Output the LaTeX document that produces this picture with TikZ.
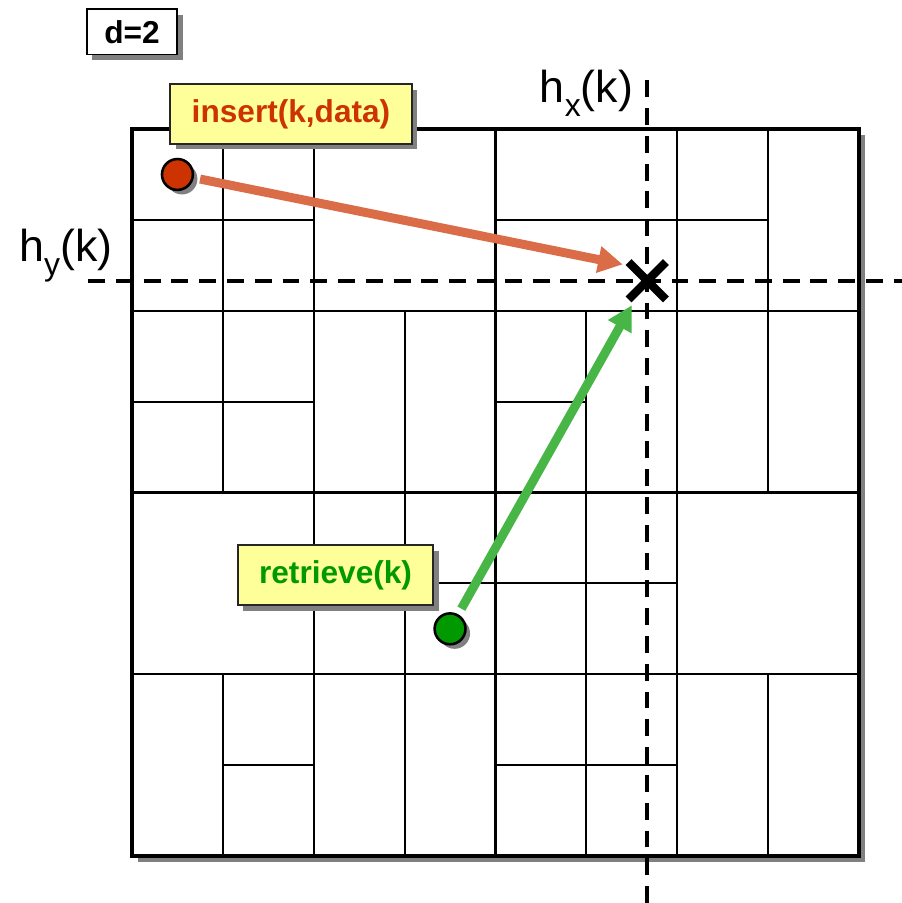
\documentclass[tikz,border=0pt]{standalone}
\usepackage{fontspec}
\setmainfont{Liberation Sans}
\usetikzlibrary{arrows.meta,shadows,shapes.misc}
\definecolor{insertred}{RGB}{204,51,0}
\definecolor{retrievegreen}{RGB}{0,153,0}
\definecolor{notepaper}{RGB}{255,255,153}
\definecolor{shadowgray}{RGB}{128,128,128}

\begin{document}
\begin{tikzpicture}[x=1cm,y=1cm,
  cell/.style={line width=.65pt},
  notebox/.style={draw=black!85,line width=.6pt,fill=notepaper,inner sep=0pt,
    font=\fontsize{9.9}{12}\selectfont\bfseries,minimum height=.66cm,
    general shadow={fill=shadowgray,shadow xshift=.06cm,shadow yshift=-.06cm}},
  keydot/.style={circle,draw=black,line width=.8pt,minimum size=.34cm,inner sep=0pt,
    general shadow={fill=shadowgray,shadow xshift=.05cm,shadow yshift=-.05cm}},
  hashline/.style={dash pattern=on 5.3pt off 3.4pt,line width=1.25pt},
  hashlabel/.style={font=\fontsize{14}{16}\selectfont,anchor=base east,inner sep=0pt},
  route/.style={line width=2.8pt,-{Triangle[width=.28cm,length=.27cm]},shorten <=2pt}]
  \useasboundingbox (-1.4525,-.517) rectangle (8.473,9.42);
  % zones of the key space
  \fill[shadowgray] (.07,-.07) rectangle (8.07,7.93);
  \fill[white] (0,0) rectangle (8,8);
  \draw[cell] (2,0) -- (2,8) (4,0) -- (4,8) (6,0) -- (6,8)
    (0,2) -- (8,2) (0,4) -- (8,4) (0,6) -- (8,6)
    (1,0) -- (1,2) (1,4) -- (1,8) (3,0) -- (3,6) (5,0) -- (5,6)
    (7,0) -- (7,2) (7,4) -- (7,8)
    (1,1) -- (2,1) (4,1) -- (6,1) (3,3) -- (6,3)
    (0,5) -- (2,5) (4,5) -- (5,5) (0,7) -- (2,7) (4,7) -- (7,7);
  \draw[line width=1.1pt] (0,0) rectangle (8,8);

  \node[cross out,draw,line width=2.6pt,minimum size=.32cm,inner sep=0pt] (cross) at (5.67,6.33) {};
  \draw[hashline] (5.67,-.517) -- (5.67,8.6);
  \draw[hashline] (-.484,6.33) -- (8.473,6.33);
  \node[hashlabel] (hxlabel) at (5.52,8.29) {h\raisebox{-.3em}{\fontsize{10}{10}\selectfont x}(k)};
  \node[hashlabel] (hylabel) at (-.21,6.54) {h\raisebox{-.3em}{\fontsize{10}{10}\selectfont y}(k)};

  \node[notebox,fill=white,draw=black,minimum width=1cm,minimum height=.5cm] (dimbox) at (0,9.07) {d=2};
  \node[notebox,text=insertred,minimum width=2.66cm] (insbox) at (1.75,8.165) {insert(k,data)};
  \node[notebox,text=retrievegreen,minimum width=2.15cm] (retbox) at (2.24,3.09) {retrieve(k)};

  \node[keydot,fill=insertred] (insdot) at (.5,7.5) {};
  \node[keydot,fill=retrievegreen] (retdot) at (3.5,2.5) {};
  \coordinate (insend) at (5.40,6.51);
  \coordinate (retend) at (5.50,6.06);
  \draw[route,insertred!72] (insdot) -- (insend);
  \draw[route,retrievegreen!72] (retdot) -- (retend);
\end{tikzpicture}
\end{document}
